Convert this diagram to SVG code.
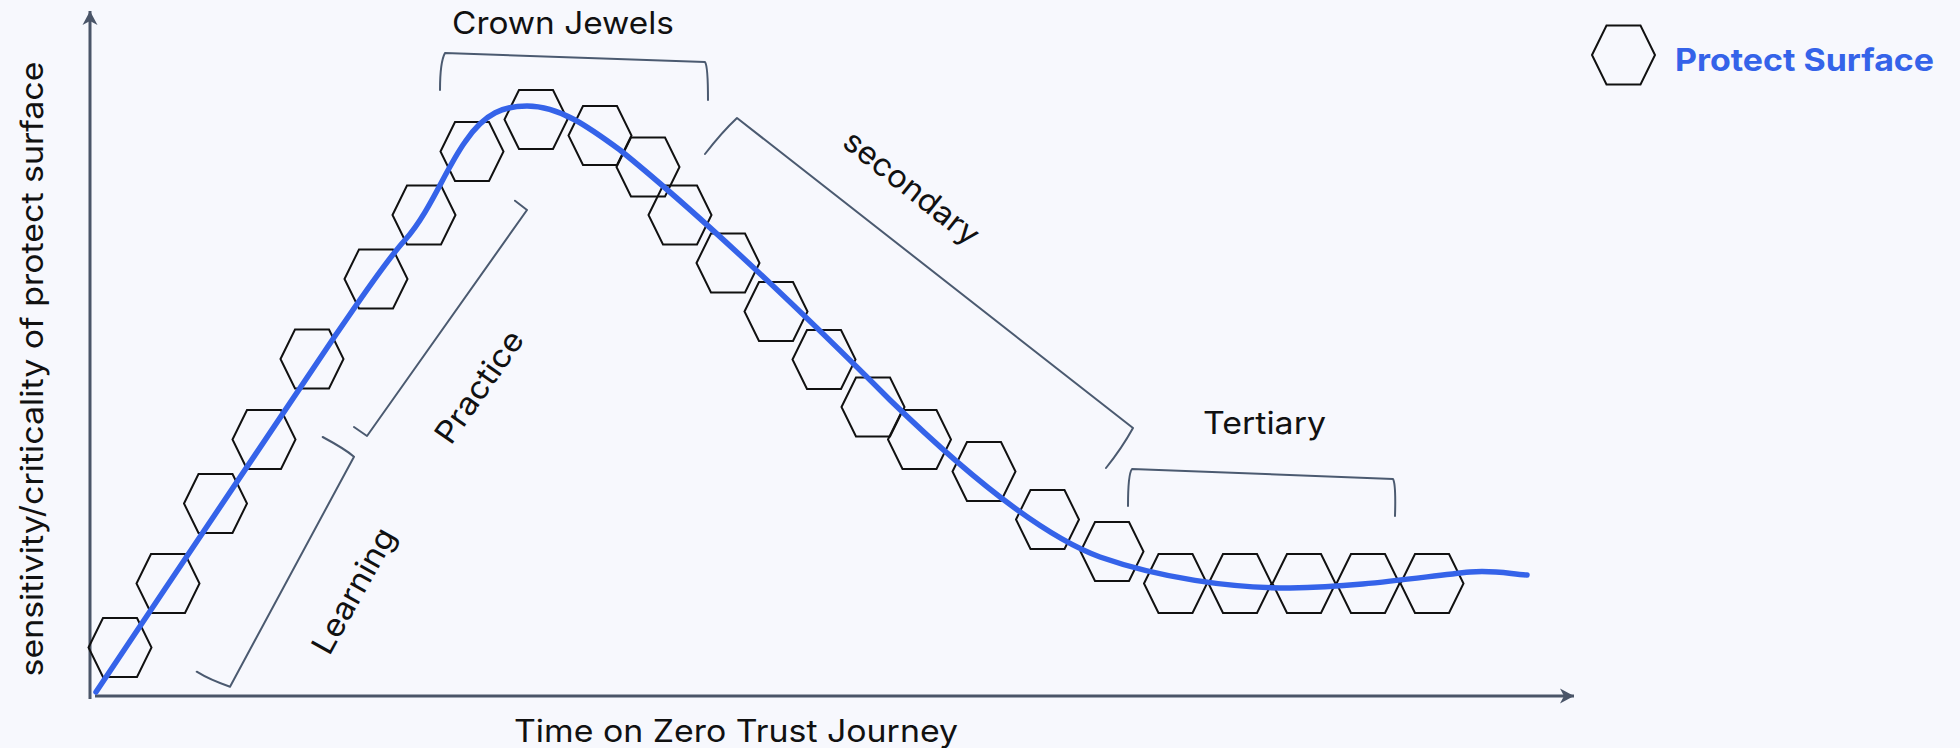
<svg xmlns="http://www.w3.org/2000/svg" xmlns:xlink="http://www.w3.org/1999/xlink" width="1960" height="748" viewBox="0 0 1960 748">
  <style>
    .axis { fill: none; stroke: #4a5568; stroke-width: 3; }
    .bracket { fill: none; stroke: #4b5a70; stroke-width: 2; stroke-linejoin: round; stroke-linecap: round; }
    .curve { fill: none; stroke: #3563e9; stroke-width: 5.5; stroke-linecap: round; stroke-linejoin: round; }
    .hex { fill: none; stroke: #111111; stroke-width: 2; stroke-linejoin: miter; }
    .label { font-family: Inter, "DejaVu Sans", "Liberation Sans", sans-serif; font-size: 31px; fill: #111111; }
    .legend-text { font-family: Inter, "DejaVu Sans", "Liberation Sans", sans-serif; font-size: 31px; font-weight: 700; fill: #3563e9; }
  </style>
  <defs>
    <polygon id="hex" points="-31.5,0 -17,-29.5 17,-29.5 31.5,0 17,29.5 -17,29.5"/>
    <marker id="arrow" viewBox="-16 -9 18 18" refX="0" refY="0" markerWidth="18" markerHeight="18" markerUnits="userSpaceOnUse" orient="auto">
      <path d="M0,0 L-14,-7.5 L-10,0 L-14,7.5 Z" fill="#4a5568"/>
    </marker>
  </defs>

  <rect x="0" y="0" width="1960" height="748" fill="#f7f8fd"/>

  <!-- axes -->
  <g id="axes">
    <line class="axis" x1="90" y1="699" x2="90" y2="11" marker-end="url(#arrow)"/>
    <line class="axis" x1="95" y1="696" x2="1574" y2="696" marker-end="url(#arrow)"/>
  </g>

  <!-- protect surfaces along the journey -->
  <g id="surfaces" class="hex">
    <use id="ps01" xlink:href="#hex" href="#hex" x="120" y="647.5"/>
    <use id="ps02" xlink:href="#hex" href="#hex" x="168" y="583.5"/>
    <use id="ps03" xlink:href="#hex" href="#hex" x="215.5" y="503.5"/>
    <use id="ps04" xlink:href="#hex" href="#hex" x="264" y="439.5"/>
    <use id="ps05" xlink:href="#hex" href="#hex" x="312" y="359"/>
    <use id="ps06" xlink:href="#hex" href="#hex" x="376" y="279"/>
    <use id="ps07" xlink:href="#hex" href="#hex" x="424" y="215"/>
    <use id="ps08" xlink:href="#hex" href="#hex" x="472" y="151.5"/>
    <use id="ps09" xlink:href="#hex" href="#hex" x="536" y="119.5"/>
    <use id="ps10" xlink:href="#hex" href="#hex" x="600" y="135.5"/>
    <use id="ps11" xlink:href="#hex" href="#hex" x="648" y="167"/>
    <use id="ps12" xlink:href="#hex" href="#hex" x="680" y="215"/>
    <use id="ps13" xlink:href="#hex" href="#hex" x="728" y="263"/>
    <use id="ps14" xlink:href="#hex" href="#hex" x="776" y="311.5"/>
    <use id="ps15" xlink:href="#hex" href="#hex" x="824" y="359.5"/>
    <use id="ps16" xlink:href="#hex" href="#hex" x="873" y="407"/>
    <use id="ps17" xlink:href="#hex" href="#hex" x="919.5" y="439.5"/>
    <use id="ps18" xlink:href="#hex" href="#hex" x="984" y="471.5"/>
    <use id="ps19" xlink:href="#hex" href="#hex" x="1047.5" y="519.5"/>
    <use id="ps20" xlink:href="#hex" href="#hex" x="1112" y="551.5"/>
    <use id="ps21" xlink:href="#hex" href="#hex" x="1175.5" y="583.5"/>
    <use id="ps22" xlink:href="#hex" href="#hex" x="1240" y="583.5"/>
    <use id="ps23" xlink:href="#hex" href="#hex" x="1304" y="583.5"/>
    <use id="ps24" xlink:href="#hex" href="#hex" x="1368" y="583.5"/>
    <use id="ps25" xlink:href="#hex" href="#hex" x="1432" y="583.5"/>
  </g>

  <!-- sensitivity curve -->
  <g id="connectors">
    <path class="curve" d="M96,692 C180,566 280,418 335,336 C360,300 385,262 405,240 C430,212 445,170 465,142 C485,112 505,106 527,106 C560,106 590,128 620,150 C700,215 800,310 890,400 C960,468 1040,535 1100,557 C1160,578 1230,588 1290,588 C1360,587 1420,577 1470,572 C1495,570 1510,574 1527,575"/>
  </g>

  <!-- phase brackets -->
  <g id="brackets" class="bracket">
    <path id="br-learning" d="M322.7,437 Q345,449 354,456.7 L230,686.7 Q210,680 196.7,671.7"/>
    <path id="br-practice" d="M515,200.7 L527,210 L367,436 L354,427"/>
    <path id="br-crown" d="M440,90 Q440,62 445,53 L705,62 Q708,66 708,100"/>
    <path id="br-secondary" d="M705,154 Q722,132 737,118 L1133,428 Q1122,448 1106,468"/>
    <path id="br-tertiary" d="M1128,506 Q1128,474 1132,469 L1393,479 Q1396,484 1395,516"/>
  </g>

  <!-- labels -->
  <g id="labels">
    <text class="label" x="452" y="34" textLength="222" lengthAdjust="spacingAndGlyphs">Crown Jewels</text>
    <text class="label" x="1203" y="434" textLength="123" lengthAdjust="spacingAndGlyphs">Tertiary</text>
    <text class="label" text-anchor="middle" transform="translate(905,196) rotate(38.5)" textLength="164" lengthAdjust="spacingAndGlyphs">secondary</text>
    <text class="label" text-anchor="middle" transform="translate(488,393) rotate(-55)" textLength="130" lengthAdjust="spacingAndGlyphs">Practice</text>
    <text class="label" text-anchor="middle" transform="translate(363,596) rotate(-61)" textLength="139" lengthAdjust="spacingAndGlyphs">Learning</text>
    <text class="label" x="514" y="742" textLength="444" lengthAdjust="spacingAndGlyphs">Time on Zero Trust Journey</text>
    <text class="label" text-anchor="middle" transform="translate(43,369) rotate(-90)" textLength="615" lengthAdjust="spacingAndGlyphs">sensitivity/criticality of protect surface</text>
  </g>

  <!-- legend -->
  <g id="legend">
    <use class="hex" xlink:href="#hex" href="#hex" x="1623.5" y="55"/>
    <text class="legend-text" x="1675" y="71" textLength="259" lengthAdjust="spacingAndGlyphs">Protect Surface</text>
  </g>
</svg>
